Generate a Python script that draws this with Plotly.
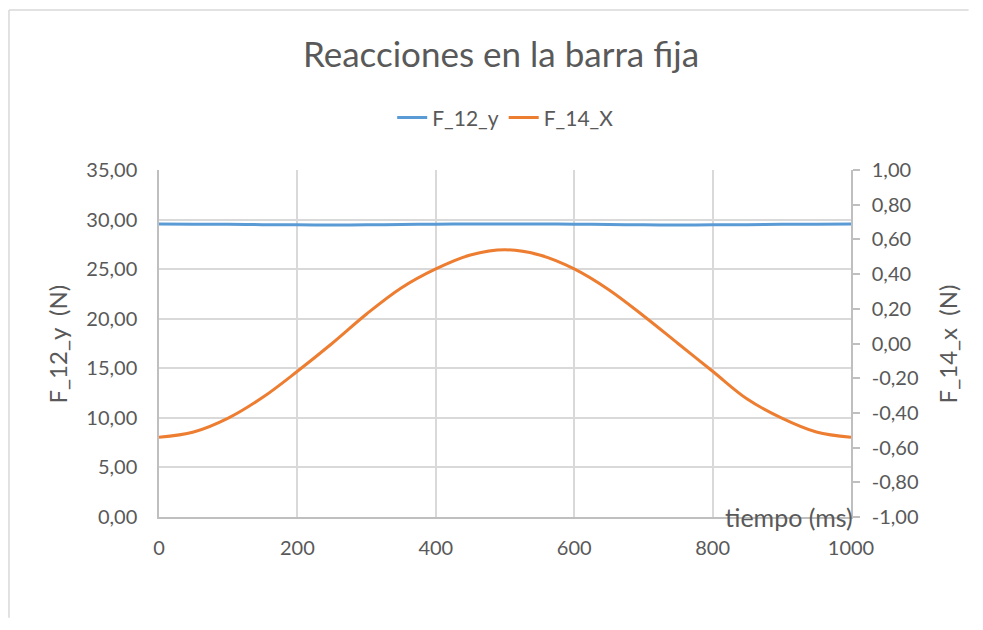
import plotly.graph_objects as go

# ---- data ----
tiempo_ms = [0, 50, 100, 150, 200, 250, 300, 350, 400, 450, 500,
             550, 600, 650, 700, 750, 800, 850, 900, 950, 1000]
f_12_y = [29.55, 29.54, 29.52, 29.49, 29.47, 29.45, 29.47, 29.50, 29.53, 29.55, 29.56,
          29.55, 29.53, 29.50, 29.47, 29.45, 29.47, 29.49, 29.52, 29.54, 29.55]
f_14_x = [-0.54, -0.51, -0.43, -0.31, -0.16, 0.00, 0.17, 0.32, 0.43, 0.51, 0.54,
          0.51, 0.43, 0.31, 0.16, -0.00, -0.16, -0.32, -0.43, -0.51, -0.54]

left_ticks = [0, 5, 10, 15, 20, 25, 30, 35]
left_labels = ["0,00", "5,00", "10,00", "15,00", "20,00", "25,00", "30,00", "35,00"]
right_ticks = [-1.0, -0.8, -0.6, -0.4, -0.2, 0.0, 0.2, 0.4, 0.6, 0.8, 1.0]
right_labels = ["-1,00", "-0,80", "-0,60", "-0,40", "-0,20", "0,00",
                "0,20", "0,40", "0,60", "0,80", "1,00"]
x_ticks = [0, 200, 400, 600, 800, 1000]

FONT = "Lato"
TXT = "#595959"
GRID = "#d9d9d9"
AXIS = "#bfbfbf"

fig = go.Figure()
fig.add_trace(go.Scatter(x=tiempo_ms, y=f_12_y, name="F_12_y", mode="lines",
                         line=dict(color="#5b9bd5", width=3, shape="spline"),
                         yaxis="y"))
fig.add_trace(go.Scatter(x=tiempo_ms, y=f_14_x, name="F_14_X", mode="lines",
                         line=dict(color="#ed7d31", width=3, shape="spline"),
                         yaxis="y2"))

fig.update_layout(
    width=967, height=614,
    margin=dict(l=151, r=124, t=162, b=105, pad=0),
    paper_bgcolor="white", plot_bgcolor="white",
    font=dict(family=FONT, color=TXT, size=20),
    title=dict(text="Reacciones en la barra fija", x=(501 - 8) / 967, xref="container",
               y=1 - (55 - 8) / 614, yref="container", xanchor="center", yanchor="middle",
               font=dict(family=FONT, size=35, color=TXT)),
    legend=dict(orientation="h", x=0.501, y=1.15, xanchor="center", yanchor="middle",
                font=dict(family=FONT, size=21, color=TXT), bgcolor="rgba(0,0,0,0)"),
    xaxis=dict(range=[0, 1000], tickvals=x_ticks, showgrid=True, gridcolor=GRID,
               gridwidth=1.5, showline=True, linecolor=AXIS, linewidth=1.5,
               ticks="", zeroline=False, ticklabelstandoff=12,
               tickfont=dict(size=20, color=TXT)),
    yaxis=dict(range=[0, 35], tickvals=left_ticks, ticktext=left_labels,
               showgrid=True, gridcolor=GRID, gridwidth=1.5, showline=True,
               linecolor=AXIS, linewidth=1.5, ticks="", zeroline=False,
               ticklabelstandoff=16, tickfont=dict(size=20, color=TXT)),
    yaxis2=dict(range=[-1, 1], tickvals=right_ticks, ticktext=right_labels,
                overlaying="y", side="right", showgrid=False, showline=True,
                linecolor=AXIS, linewidth=1.5, ticks="outside", ticklen=7,
                tickcolor=AXIS, tickwidth=1.5, zeroline=False,
                ticklabelstandoff=8, tickfont=dict(size=20, color=TXT)),
    annotations=[
        dict(text="F_12_y\u00a0\u00a0(N)", x=-0.146, y=0.5, xref="paper", yref="paper",
             textangle=-90, showarrow=False, xanchor="center", yanchor="middle",
             font=dict(family=FONT, size=24, color=TXT)),
        dict(text="F_14_x\u00a0\u00a0(N)", x=1.140, y=0.5, xref="paper", yref="paper",
             textangle=-90, showarrow=False, xanchor="center", yanchor="middle",
             font=dict(family=FONT, size=24, color=TXT)),
        dict(text="tiempo (ms)", x=1.006, y=0.0, xref="paper", yref="paper",
             showarrow=False, xanchor="right", yanchor="middle",
             font=dict(family=FONT, size=25, color=TXT)),
    ],
    shapes=[
        dict(type="line", xref="paper", yref="paper", x0=-0.2168, x1=-0.2168,
             y0=-0.29, y1=1.461, line=dict(color=GRID, width=1.5)),
        dict(type="line", xref="paper", yref="paper", x0=-0.2168, x1=1.17,
             y0=1.461, y1=1.461, line=dict(color=GRID, width=1.5)),
    ],
)

fig.write_html("out.html")
